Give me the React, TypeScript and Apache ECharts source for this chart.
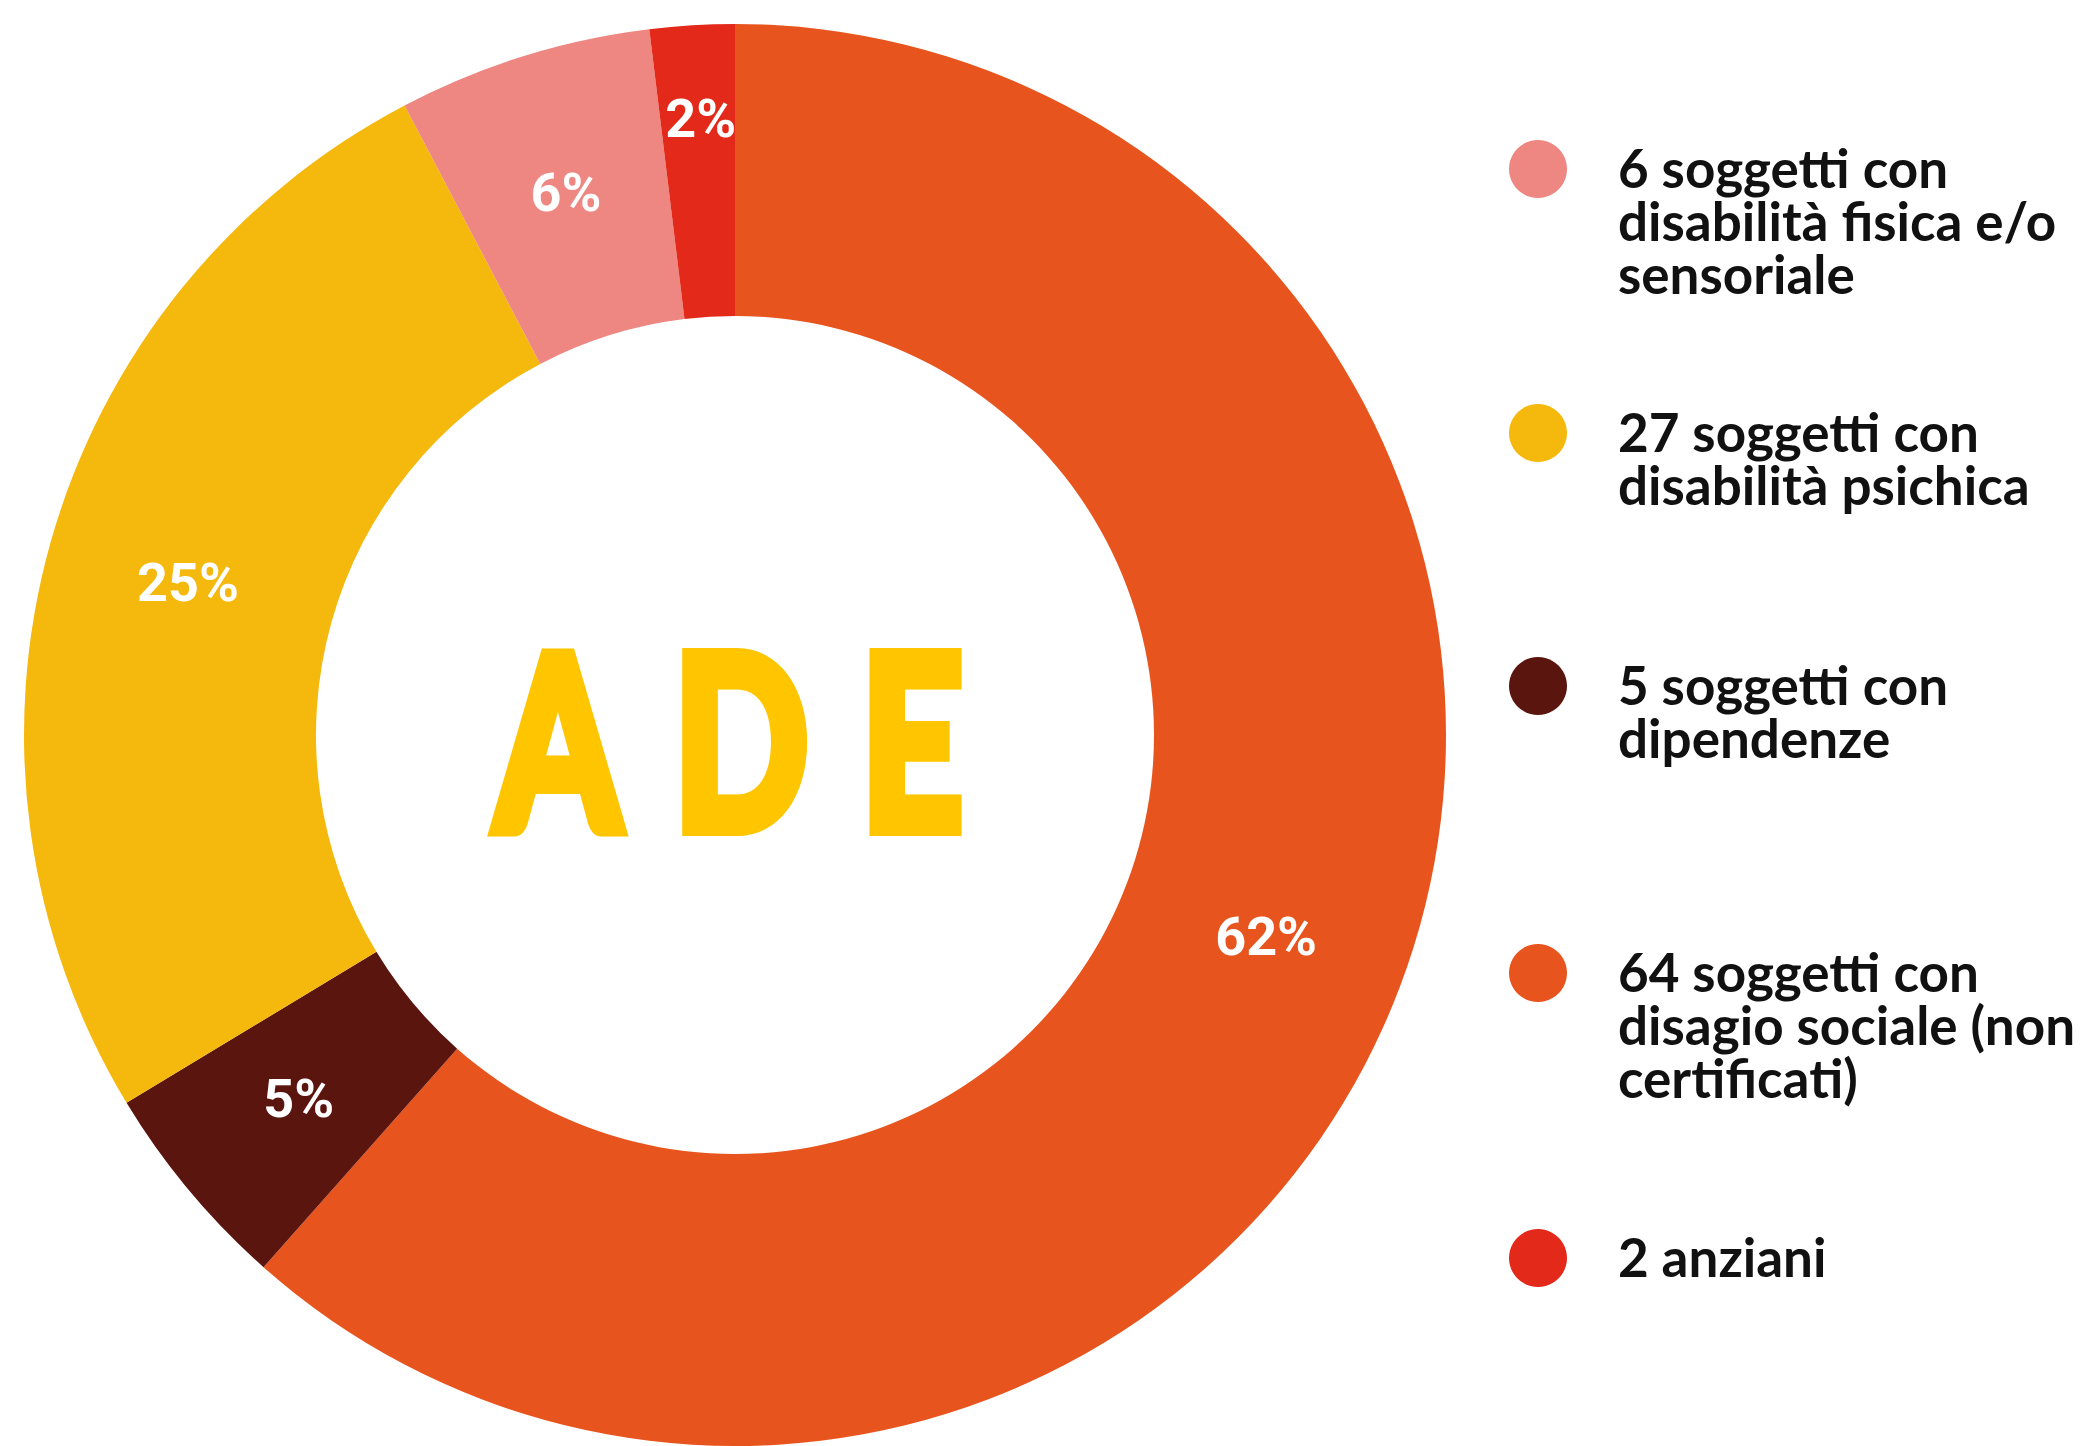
import React, { useEffect, useRef } from "react";
import * as echarts from "echarts";

// ---- data ----
const sliceNames = [
  "disagio sociale (non certificati)",
  "dipendenze",
  "disabilità psichica",
  "disabilità fisica e/o sensoriale",
  "anziani",
];
const sliceValues = [64, 5, 27, 6, 2];
const sliceLabels = ["62%", "5%", "25%", "6%", "2%"];
const sliceColors = ["#E8541E", "#5B150F", "#F5B80C", "#EE8681", "#E2291A"];

const legendOrder = [3, 2, 1, 0, 4];
const legendTexts = [
  "6 soggetti con\ndisabilità fisica e/o\nsensoriale",
  "27 soggetti con\ndisabilità psichica",
  "5 soggetti con\ndipendenze",
  "64 soggetti con\ndisagio sociale (non\ncertificati)",
  "2 anziani",
];
const centerLetters = ["A", "D", "E"];

// ---- layout ----
const legendCircleX = 1538;
const legendTextX = 1618;
const legendYs = [167, 431, 684, 971, 1256];
const legendLineHeight = 53;
const letterXs = [558, 741, 912];
const letterY = 736;
// slices whose label is pushed outward (thin top slice)
const liftedLabel = [false, false, false, false, true];

export default function App() {
  const ref = useRef<HTMLDivElement>(null);
  useEffect(() => {
    if (!ref.current) return;
    const chart = echarts.init(ref.current, null, { renderer: "svg" });

    const graphics: any[] = [];
    legendOrder.forEach((idx, i) => {
      graphics.push({
        type: "circle",
        shape: { cx: legendCircleX, cy: legendYs[i] + 2, r: 29 },
        style: { fill: sliceColors[idx] },
      });
      graphics.push({
        type: "text",
        x: legendTextX,
        y: legendYs[i] - legendLineHeight / 2,
        style: {
          text: legendTexts[i],
          fill: "#111111",
          fontFamily: "Lato",
          fontWeight: "bold",
          fontSize: 53,
          lineHeight: legendLineHeight,
          align: "left",
          verticalAlign: "top",
        },
      });
    });
    centerLetters.forEach((l, i) => {
      graphics.push({
        type: "text",
        x: letterXs[i],
        y: letterY,
        scaleX: 0.74,
        style: {
          text: l,
          x: 0,
          y: 0,
          fill: "#FFC600",
          stroke: "#FFC600",
          lineWidth: 16,
          lineJoin: "round",
          fontFamily: "Lato",
          fontWeight: "bold",
          fontSize: 238,
          align: "center",
          verticalAlign: "middle",
        },
      });
    });

    chart.setOption({
      animation: false,
      backgroundColor: "#ffffff",
      graphic: graphics,
      series: [
        {
          type: "pie",
          center: [735, 735],
          radius: [419, 711],
          startAngle: 90,
          clockwise: true,
          avoidLabelOverlap: false,
          silent: true,
          label: {
            show: true,
            position: "inside",
            color: "#ffffff",
            fontFamily: "Roboto",
            fontWeight: "bold",
            fontSize: 54,
            formatter: (p: any) =>
              liftedLabel[p.dataIndex]
                ? "{t|" + sliceLabels[p.dataIndex] + "}\n{s|}"
                : "{t|" + sliceLabels[p.dataIndex] + "}",
            rich: {
              t: {
                color: "#ffffff",
                fontFamily: "Roboto",
                fontWeight: "bold",
                fontSize: 54,
                lineHeight: 60,
              },
              s: { height: 1, lineHeight: 100, fontSize: 10 },
            },
          },
          labelLine: { show: false },
          itemStyle: { borderWidth: 0 },
          data: sliceValues.map((v, i) => ({
            value: v,
            name: sliceNames[i],
            itemStyle: { color: sliceColors[i] },
          })),
        },
      ],
    });
    return () => chart.dispose();
  }, []);
  return (
    <div
      ref={ref}
      style={{ position: "fixed", left: 0, top: 0, width: 2088, height: 1446 }}
    />
  );
}
